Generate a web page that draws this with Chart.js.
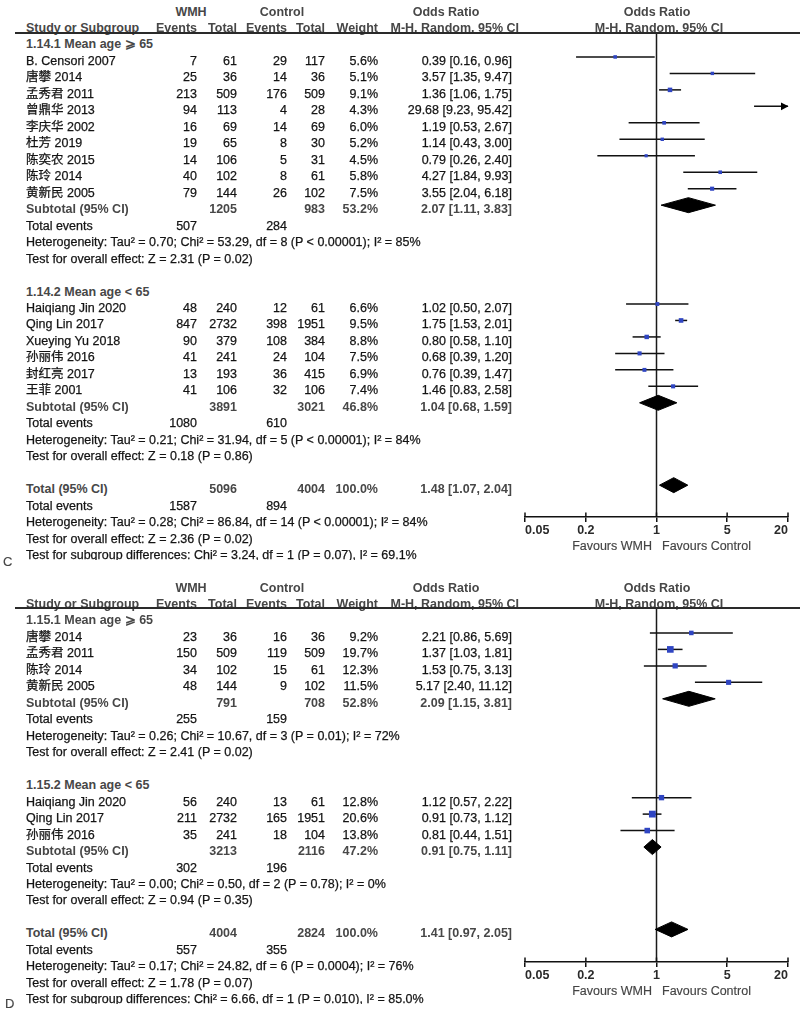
<!DOCTYPE html>
<html><head><meta charset="utf-8">
<script src="https://cdn.jsdelivr.net/npm/chart.js@4.4.1/dist/chart.umd.min.js"></script>
<style>
html,body{margin:0;padding:0;background:#fff;}
#page{position:relative;width:800px;height:1013px;overflow:hidden;font-family:"Liberation Sans","Noto Sans CJK SC",Arial,sans-serif;}
.t{position:absolute;white-space:nowrap;line-height:14px;font-size:12.5px;color:#141414;-webkit-text-stroke:0.25px #141414;}
.b{font-weight:bold;color:#474747;-webkit-text-stroke:0;}
.g{color:#444;-webkit-text-stroke:0.15px #444;}
.cv{position:absolute;}
</style></head><body><div id="page">
<canvas class="cv" id="chartC" width="300" height="560" style="left:500px;top:0px;width:300px;height:560px"></canvas>
<canvas class="cv" id="chartD" width="300" height="437" style="left:500px;top:576px;width:300px;height:437px"></canvas>
</div>
<script>
// ---------------- axis ----------------
const X_TICKS = [0.05, 0.2, 1, 5, 20];
const X_TICK_LABELS = ['0.05', '0.2', '1', '5', '20'];
const X_MIN = 0.05, X_MAX = 20;

// ---------------- Panel C, subgroup 1 ----------------
const C1_title = '1.14.1 Mean age ⩾ 65';
const C1_studies = ['B. Censori 2007','唐攀 2014','孟秀君 2011','曾鼎华 2013','李庆华 2002','杜芳 2019','陈奕农 2015','陈玲 2014','黄新民 2005'];
const C1_wmhEvents = [7, 25, 213, 94, 16, 19, 14, 40, 79];
const C1_wmhTotal  = [61, 36, 509, 113, 69, 65, 106, 102, 144];
const C1_ctlEvents = [29, 14, 176, 4, 14, 8, 5, 8, 26];
const C1_ctlTotal  = [117, 36, 509, 28, 69, 30, 31, 61, 102];
const C1_weight = [5.6, 5.1, 9.1, 4.3, 6.0, 5.2, 4.5, 5.8, 7.5];
const C1_or = [0.39, 3.57, 1.36, 29.68, 1.19, 1.14, 0.79, 4.27, 3.55];
const C1_lo = [0.16, 1.35, 1.06, 9.23, 0.53, 0.43, 0.26, 1.84, 2.04];
const C1_hi = [0.96, 9.47, 1.75, 95.42, 2.67, 3.00, 2.40, 9.93, 6.18];
const C1_subTotals = [1205, 983];
const C1_subWeight = 53.2;
const C1_subOR = [2.07, 1.11, 3.83];
const C1_events = [507, 284];
const C1_het = 'Heterogeneity: Tau² = 0.70; Chi² = 53.29, df = 8 (P < 0.00001); I² = 85%';
const C1_test = 'Test for overall effect: Z = 2.31 (P = 0.02)';

// ---------------- Panel C, subgroup 2 ----------------
const C2_title = '1.14.2 Mean age < 65';
const C2_studies = ['Haiqiang Jin 2020','Qing Lin 2017','Xueying Yu 2018','孙丽伟 2016','封红亮 2017','王菲 2001'];
const C2_wmhEvents = [48, 847, 90, 41, 13, 41];
const C2_wmhTotal  = [240, 2732, 379, 241, 193, 106];
const C2_ctlEvents = [12, 398, 108, 24, 36, 32];
const C2_ctlTotal  = [61, 1951, 384, 104, 415, 106];
const C2_weight = [6.6, 9.5, 8.8, 7.5, 6.9, 7.4];
const C2_or = [1.02, 1.75, 0.80, 0.68, 0.76, 1.46];
const C2_lo = [0.50, 1.53, 0.58, 0.39, 0.39, 0.83];
const C2_hi = [2.07, 2.01, 1.10, 1.20, 1.47, 2.58];
const C2_subTotals = [3891, 3021];
const C2_subWeight = 46.8;
const C2_subOR = [1.04, 0.68, 1.59];
const C2_events = [1080, 610];
const C2_het = 'Heterogeneity: Tau² = 0.21; Chi² = 31.94, df = 5 (P < 0.00001); I² = 84%';
const C2_test = 'Test for overall effect: Z = 0.18 (P = 0.86)';

// ---------------- Panel C, overall ----------------
const C_totTotals = [5096, 4004];
const C_totWeight = 100.0;
const C_totOR = [1.48, 1.07, 2.04];
const C_totEvents = [1587, 894];
const C_totHet = 'Heterogeneity: Tau² = 0.28; Chi² = 86.84, df = 14 (P < 0.00001); I² = 84%';
const C_totTest = 'Test for overall effect: Z = 2.36 (P = 0.02)';
const C_subDiff = 'Test for subgroup differences: Chi² = 3.24, df = 1 (P = 0.07), I² = 69.1%';

// ---------------- Panel D, subgroup 1 ----------------
const D1_title = '1.15.1 Mean age ⩾ 65';
const D1_studies = ['唐攀 2014','孟秀君 2011','陈玲 2014','黄新民 2005'];
const D1_wmhEvents = [23, 150, 34, 48];
const D1_wmhTotal  = [36, 509, 102, 144];
const D1_ctlEvents = [16, 119, 15, 9];
const D1_ctlTotal  = [36, 509, 61, 102];
const D1_weight = [9.2, 19.7, 12.3, 11.5];
const D1_or = [2.21, 1.37, 1.53, 5.17];
const D1_lo = [0.86, 1.03, 0.75, 2.40];
const D1_hi = [5.69, 1.81, 3.13, 11.12];
const D1_subTotals = [791, 708];
const D1_subWeight = 52.8;
const D1_subOR = [2.09, 1.15, 3.81];
const D1_events = [255, 159];
const D1_het = 'Heterogeneity: Tau² = 0.26; Chi² = 10.67, df = 3 (P = 0.01); I² = 72%';
const D1_test = 'Test for overall effect: Z = 2.41 (P = 0.02)';

// ---------------- Panel D, subgroup 2 ----------------
const D2_title = '1.15.2 Mean age < 65';
const D2_studies = ['Haiqiang Jin 2020','Qing Lin 2017','孙丽伟 2016'];
const D2_wmhEvents = [56, 211, 35];
const D2_wmhTotal  = [240, 2732, 241];
const D2_ctlEvents = [13, 165, 18];
const D2_ctlTotal  = [61, 1951, 104];
const D2_weight = [12.8, 20.6, 13.8];
const D2_or = [1.12, 0.91, 0.81];
const D2_lo = [0.57, 0.73, 0.44];
const D2_hi = [2.22, 1.12, 1.51];
const D2_subTotals = [3213, 2116];
const D2_subWeight = 47.2;
const D2_subOR = [0.91, 0.75, 1.11];
const D2_events = [302, 196];
const D2_het = 'Heterogeneity: Tau² = 0.00; Chi² = 0.50, df = 2 (P = 0.78); I² = 0%';
const D2_test = 'Test for overall effect: Z = 0.94 (P = 0.35)';

// ---------------- Panel D, overall ----------------
const D_totTotals = [4004, 2824];
const D_totWeight = 100.0;
const D_totOR = [1.41, 0.97, 2.05];
const D_totEvents = [557, 355];
const D_totHet = 'Heterogeneity: Tau² = 0.17; Chi² = 24.82, df = 6 (P = 0.0004); I² = 76%';
const D_totTest = 'Test for overall effect: Z = 1.78 (P = 0.07)';
const D_subDiff = 'Test for subgroup differences: Chi² = 6.66, df = 1 (P = 0.010), I² = 85.0%';

// ---------------- assembly ----------------
function grp(title, studies, e1, t1, e2, t2, w, or, lo, hi, subN, subW, subOR, events, het, test) {
  return {title, studies, e1, t1, e2, t2, w, or, lo, hi, subN, subW, subOR, events, het, test};
}
const panels = [
  { label: 'C', canvas: 'chartC', y0: 28, canvasTop: 0, canvasH: 560, headerLineY: 33, axisY: 517, labelY: 562, labelX: 3,
    groups: [
      grp(C1_title, C1_studies, C1_wmhEvents, C1_wmhTotal, C1_ctlEvents, C1_ctlTotal, C1_weight, C1_or, C1_lo, C1_hi, C1_subTotals, C1_subWeight, C1_subOR, C1_events, C1_het, C1_test),
      grp(C2_title, C2_studies, C2_wmhEvents, C2_wmhTotal, C2_ctlEvents, C2_ctlTotal, C2_weight, C2_or, C2_lo, C2_hi, C2_subTotals, C2_subWeight, C2_subOR, C2_events, C2_het, C2_test)
    ],
    total: { N: C_totTotals, W: C_totWeight, OR: C_totOR, events: C_totEvents, het: C_totHet, test: C_totTest, diff: C_subDiff } },
  { label: 'D', canvas: 'chartD', y0: 604, canvasTop: 576, canvasH: 437, headerLineY: 608, axisY: 962, labelY: 1004, labelX: 5,
    groups: [
      grp(D1_title, D1_studies, D1_wmhEvents, D1_wmhTotal, D1_ctlEvents, D1_ctlTotal, D1_weight, D1_or, D1_lo, D1_hi, D1_subTotals, D1_subWeight, D1_subOR, D1_events, D1_het, D1_test),
      grp(D2_title, D2_studies, D2_wmhEvents, D2_wmhTotal, D2_ctlEvents, D2_ctlTotal, D2_weight, D2_or, D2_lo, D2_hi, D2_subTotals, D2_subWeight, D2_subOR, D2_events, D2_het, D2_test)
    ],
    total: { N: D_totTotals, W: D_totWeight, OR: D_totOR, events: D_totEvents, het: D_totHet, test: D_totTest, diff: D_subDiff } }
];

const LINE = 16.47;          // row pitch in px
const MARK_SHIFT = 4;        // marks sit slightly above text centre
const DIAMOND_HALF = 7.5;    // px
const COLS = { name: 26, e1: 197, t1: 237, e2: 287, t2: 325, w: 378, ci: 512 };
const page = document.getElementById('page');

function txt(x, yc, s, align, cls, clipH, size) {
  const d = document.createElement('div');
  d.className = 't ' + (cls || '');
  d.textContent = s;
  const W = 420;
  if (align === 'right') { d.style.left = (x - W) + 'px'; d.style.width = W + 'px'; d.style.textAlign = 'right'; }
  else if (align === 'center') { d.style.left = (x - W / 2) + 'px'; d.style.width = W + 'px'; d.style.textAlign = 'center'; }
  else { d.style.left = x + 'px'; }
  d.style.top = (yc - 7) + 'px';
  if (size) d.style.fontSize = size + 'px';
  if (clipH) { d.style.height = clipH + 'px'; d.style.overflow = 'hidden'; }
  page.appendChild(d);
}
const f2 = v => v.toFixed(2);
const ciStr = a => `${f2(a[0])} [${f2(a[1])}, ${f2(a[2])}]`;

function layoutPanel(p) {
  const rows = []; let n = 1;
  p.groups.forEach(g => {
    rows.push({ n: n++, kind: 'title', text: g.title });
    g.studies.forEach((s, i) => rows.push({ n: n++, kind: 'study', g, i }));
    rows.push({ n: n++, kind: 'sum', label: 'Subtotal (95% CI)', N: g.subN, W: g.subW, OR: g.subOR });
    rows.push({ n: n++, kind: 'events', ev: g.events });
    rows.push({ n: n++, kind: 'note', text: g.het });
    rows.push({ n: n++, kind: 'note', text: g.test });
    n++;
  });
  const t = p.total;
  rows.push({ n: n++, kind: 'sum', label: 'Total (95% CI)', N: t.N, W: t.W, OR: t.OR });
  rows.push({ n: n++, kind: 'events', ev: t.events });
  rows.push({ n: n++, kind: 'note', text: t.het });
  rows.push({ n: n++, kind: 'note', text: t.test });
  rows.push({ n: n++, kind: 'diff', text: t.diff });
  return rows;
}

// arrow heads for CIs running off the right end of the axis, and upward half of tick marks
const forestExtras = {
  id: 'forestExtras',
  afterDatasetsDraw(chart, args, opts) {
    const xs = chart.scales.x, ys = chart.scales.y, ctx = chart.ctx;
    const px = xs.getPixelForValue(X_MAX);
    ctx.save();
    ctx.fillStyle = '#000';
    (opts.rows || []).forEach(v => {
      const py = ys.getPixelForValue(v);
      ctx.beginPath();
      ctx.moveTo(px + 0.5, py);
      ctx.lineTo(px - 7, py - 3.8);
      ctx.lineTo(px - 7, py + 3.8);
      ctx.closePath();
      ctx.fill();
    });
    ctx.strokeStyle = '#111';
    ctx.lineWidth = 1.5;
    const by = chart.chartArea.bottom;
    X_TICKS.forEach(v => {
      const tx = xs.getPixelForValue(v);
      ctx.beginPath();
      ctx.moveTo(tx, by - 4.5);
      ctx.lineTo(tx, by);
      ctx.stroke();
    });
    ctx.restore();
  }
};

panels.forEach(p => {
  const Y = n => p.y0 + LINE * n;
  // column headings
  txt(191, Y(-1), 'WMH', 'center', 'b');
  txt(282, Y(-1), 'Control', 'center', 'b');
  txt(446, Y(-1), 'Odds Ratio', 'center', 'b');
  txt(657, Y(-1), 'Odds Ratio', 'center', 'b');
  txt(COLS.name, Y(0), 'Study or Subgroup', 'left', 'b');
  txt(COLS.e1, Y(0), 'Events', 'right', 'b');
  txt(COLS.t1, Y(0), 'Total', 'right', 'b');
  txt(COLS.e2, Y(0), 'Events', 'right', 'b');
  txt(COLS.t2, Y(0), 'Total', 'right', 'b');
  txt(COLS.w, Y(0), 'Weight', 'right', 'b');
  txt(519, Y(0), 'M-H, Random, 95% CI', 'right', 'b');
  txt(659, Y(0), 'M-H, Random, 95% CI', 'center', 'b');
  const hl = document.createElement('div');
  hl.style.cssText = `position:absolute;left:15px;top:${p.headerLineY - 1}px;width:785px;height:2px;background:#2a2a2a;`;
  page.appendChild(hl);

  const rows = layoutPanel(p);
  rows.forEach(r => {
    const y = Y(r.n);
    if (r.kind === 'title') txt(COLS.name, y, r.text, 'left', 'b');
    else if (r.kind === 'study') {
      const g = r.g, i = r.i;
      txt(COLS.name, y, g.studies[i], 'left');
      txt(COLS.e1, y, String(g.e1[i]), 'right');
      txt(COLS.t1, y, String(g.t1[i]), 'right');
      txt(COLS.e2, y, String(g.e2[i]), 'right');
      txt(COLS.t2, y, String(g.t2[i]), 'right');
      txt(COLS.w, y, g.w[i].toFixed(1) + '%', 'right');
      txt(COLS.ci, y, ciStr([g.or[i], g.lo[i], g.hi[i]]), 'right');
    } else if (r.kind === 'sum') {
      txt(COLS.name, y, r.label, 'left', 'b');
      txt(COLS.t1, y, String(r.N[0]), 'right', 'b');
      txt(COLS.t2, y, String(r.N[1]), 'right', 'b');
      txt(COLS.w, y, r.W.toFixed(1) + '%', 'right', 'b');
      txt(COLS.ci, y, ciStr(r.OR), 'right', 'b');
    } else if (r.kind === 'events') {
      txt(COLS.name, y, 'Total events', 'left');
      txt(COLS.e1, y, String(r.ev[0]), 'right');
      txt(COLS.e2, y, String(r.ev[1]), 'right');
    } else if (r.kind === 'note') {
      txt(COLS.name, y, r.text, 'left');
    } else if (r.kind === 'diff') {
      txt(COLS.name, y, r.text, 'left', '', 12);
    }
  });
  txt(p.labelX, p.labelY, p.label, 'left', 'g', 0, 13);
  txt(652, p.axisY + 29, 'Favours WMH', 'right', 'g');
  txt(662, p.axisY + 29, 'Favours Control', 'left', 'g');

  // -------- chart --------
  const yMin = (p.headerLineY - p.y0) / LINE;
  const yMax = (p.axisY - p.y0) / LINE;
  const ym = n => n - MARK_SHIFT / LINE;
  const ds = [];
  ds.push({ data: [{ x: 1, y: yMin }, { x: 1, y: yMax }], showLine: true, borderColor: '#1a1a1a', borderWidth: 1.5, pointRadius: 0, order: 5 });
  const squares = [], radii = [], arrows = [];
  rows.filter(r => r.kind === 'study').forEach(r => {
    const g = r.g, i = r.i, y = ym(r.n);
    ds.push({ data: [{ x: Math.max(g.lo[i], X_MIN), y }, { x: Math.min(g.hi[i], X_MAX), y }], showLine: true, borderColor: '#111', borderWidth: 1.5, pointRadius: 0, order: 4 });
    if (g.or[i] >= X_MIN && g.or[i] <= X_MAX) { squares.push({ x: g.or[i], y }); radii.push(1.06 * Math.sqrt(g.w[i])); }
    if (g.hi[i] > X_MAX) arrows.push(y);
  });
  ds.push({ data: squares, pointStyle: 'rect', pointRadius: radii, pointBackgroundColor: '#2f45c2', backgroundColor: '#2f45c2', pointBorderWidth: 0, borderWidth: 0, showLine: false, order: 1 });
  rows.filter(r => r.kind === 'sum').forEach(r => {
    const [o, l, h] = r.OR, y = ym(r.n), d = DIAMOND_HALF / LINE;
    ds.push({ data: [{ x: l, y }, { x: o, y: y - d }, { x: h, y }, { x: o, y: y + d }, { x: l, y }], showLine: true, fill: 'shape', backgroundColor: '#000', borderColor: '#000', borderWidth: 1, pointRadius: 0, order: 3 });
  });

  new Chart(document.getElementById(p.canvas), {
    type: 'scatter',
    data: { datasets: ds },
    plugins: [forestExtras],
    options: {
      responsive: false, animation: false, devicePixelRatio: 1, events: [],
      layout: { padding: { top: p.headerLineY - p.canvasTop, left: 25, right: 12, bottom: 0 } },
      plugins: { legend: { display: false }, tooltip: { enabled: false }, forestExtras: { rows: arrows } },
      scales: {
        x: {
          type: 'logarithmic', min: X_MIN, max: X_MAX, bounds: 'data', position: 'bottom',
          afterBuildTicks: s => { s.ticks = X_TICKS.map(v => ({ value: v })); },
          afterFit: s => { s.height = p.canvasTop + p.canvasH - p.axisY; },
          ticks: { align: 'inner', autoSkip: false, maxRotation: 0, padding: 1, color: '#2a2a2a',
                   font: { family: 'Liberation Sans', size: 12.5, weight: 'bold' },
                   callback: (v, i) => X_TICK_LABELS[i] },
          grid: { drawOnChartArea: false, drawTicks: true, tickLength: 5, color: '#111', lineWidth: 1.5 },
          border: { display: true, color: '#111', width: 1.5 }
        },
        y: { type: 'linear', display: false, reverse: true, min: yMin, max: yMax }
      }
    }
  });
});
</script>
</body></html>
